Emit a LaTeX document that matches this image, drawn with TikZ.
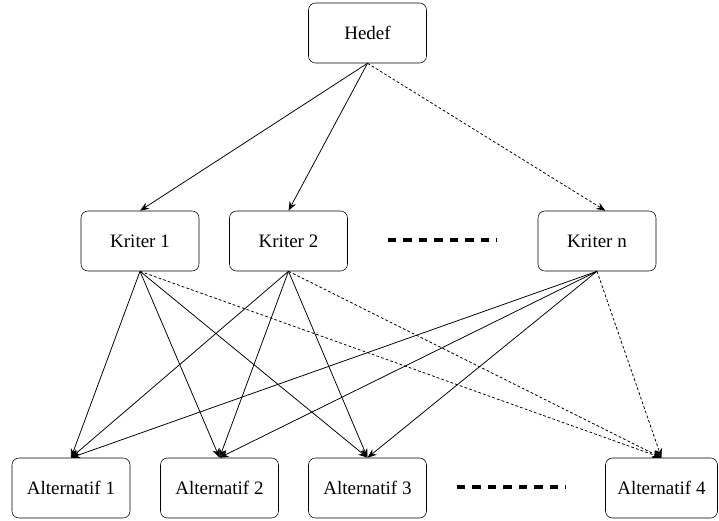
\documentclass[tikz,border=0pt]{standalone}
\usepackage{fontspec}
\setmainfont{Liberation Serif}
\usetikzlibrary{arrows.meta,positioning}

\begin{document}
\begin{tikzpicture}[x=0.025cm,y=-0.025cm]
	\tikzset{box/.style={draw,rounded corners=5pt,minimum width=2.95cm,minimum height=1.5cm,font=\fontsize{13.5}{16}\selectfont},
		con/.style={-{Stealth[length=6.5pt,width=5pt]},line width=0.55pt},
		dcon/.style={con,dash pattern=on 2pt off 1.5pt},
		sep/.style={line width=2.2pt,dash pattern=on 6pt off 5pt}}
	\useasboundingbox (0,0) rectangle (719,521);
	\node[box] (h) at (367.5,33) {Hedef};
	\node[box] (k1) at (140,241) {Kriter 1};
	\node[box] (k2) at (288.5,241) {Kriter 2};
	\node[box] (kn) at (597,241) {Kriter n};
	\node[box] (a1) at (71,488) {Alternatif 1};
	\node[box] (a2) at (219.5,488) {Alternatif 2};
	\node[box] (a3) at (367.5,488) {Alternatif 3};
	\node[box,minimum width=2.8cm] (a4) at (661.5,488) {Alternatif 4};
	% separators
	\coordinate (d1) at (388,240);
	\coordinate (d2) at (497,240);
	\coordinate (d3) at (457,487);
	\coordinate (d4) at (566,487);
	\draw[sep] (d1) -- (d2);
	\draw[sep] (d3) -- (d4);
	\path[con]
		(h.south) edge (k1.north)
		(h.south) edge (k2.north)
		(k1.south) edge (a1.north)
		(k1.south) edge (a2.north)
		(k1.south) edge (a3.north)
		(k2.south) edge (a1.north)
		(k2.south) edge (a2.north)
		(k2.south) edge (a3.north)
		(kn.south) edge (a1.north)
		(kn.south) edge (a2.north)
		(kn.south) edge (a3.north);
	\path[dcon]
		(h.south) edge ([xshift=6pt]kn.north)
		(k1.south) edge (a4.north)
		(k2.south) edge (a4.north)
		(kn.south) edge (a4.north);
\end{tikzpicture}
\end{document}
